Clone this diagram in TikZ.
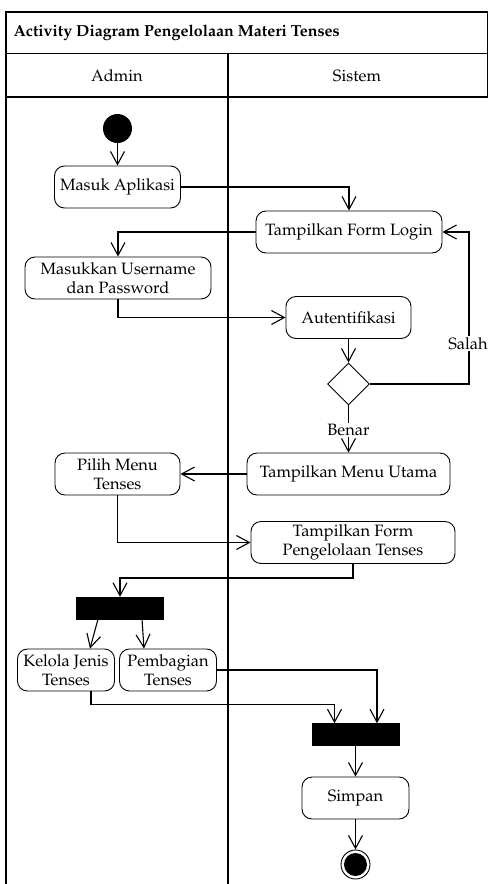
\documentclass[tikz,border=0pt]{standalone}
\usepackage[T1]{fontenc}
\usepackage{mathpazo}
\usetikzlibrary{arrows.meta,shapes.geometric}

\begin{document}
\begin{tikzpicture}[x=1pt,y=-1pt,
  txt/.style={font=\fontsize{16.4}{19}\selectfont},
  act/.style={txt, draw, line width=0.9pt, rounded corners=10pt, align=center,
              inner sep=1pt, minimum height=42pt},
  bar/.style={draw, fill=black, minimum width=87pt, minimum height=22pt, inner sep=0pt},
  flow/.style={draw, line width=1.1pt, -{Straight Barb[length=13pt, width=14pt, line width=1.1pt]}},
  lbl/.style={txt, fill=white, inner sep=1pt},
  lane/.style={line width=1.1pt}
]
\useasboundingbox (0,0) rectangle (488,884);

% swimlane frame
\draw[lane] (6,884) -- (6,12) -- (487.5,12) -- (487.5,97);
\draw[lane] (6,53.5) -- (488,53.5);
\draw[lane] (6,97) -- (488,97);
\draw[lane] (228,53.5) -- (228,884);
\node[anchor=west, font=\fontsize{16}{19}\selectfont\bfseries] (title) at (10,33) {Activity Diagram Pengelolaan Materi Tenses};
\node[txt] (admin) at (117,75.5) {Admin};
\node[txt] (sistem) at (357,75.5) {Sistem};

% activities
\node[circle, fill=black, minimum size=29pt, inner sep=0pt] (start) at (117.5,128.5) {};
\node[act, minimum width=126pt] (masuk) at (117.5,187) {Masuk Aplikasi};
\node[act, minimum width=186pt] (login) at (349,232) {Tampilkan Form Login};
\node[act, minimum width=186pt] (input) at (118,278) {Masukkan Username\\dan Password};
\node[act, minimum width=125pt] (auth) at (348.5,317.5) {Autentifikasi};
\node[diamond, draw, line width=0.9pt, minimum width=42pt, minimum height=42pt, inner sep=0pt] (cek) at (348.5,384) {};
\node[act, minimum width=203pt] (menu) at (348.5,474) {Tampilkan Menu Utama};
\node[act, minimum width=125pt] (pilih) at (117.5,474) {Pilih Menu\\Tenses};
\node[act, minimum width=204pt] (form) at (353,542.5) {Tampilkan Form\\Pengelolaan Tenses};
\node[bar] (fork) at (120,608) {};
\node[act, minimum width=97pt, minimum height=42pt] (kelola) at (66,670) {Kelola Jenis\\Tenses};
\node[act, minimum width=97pt, minimum height=42pt] (bagi) at (168,670) {Pembagian\\Tenses};
\node[bar] (join) at (355.5,734.5) {};
\node[act, minimum width=107pt] (simpan) at (355.5,798) {Simpan};
\node[circle, draw, line width=0.9pt, minimum size=29pt, inner sep=0pt] (end) at (355.5,864.5) {};
\node[circle, fill=black, minimum size=23pt, inner sep=0pt] (endin) at (end.center) {};

% control flow
\draw[flow] (start) -- (masuk);
\draw[flow] (masuk.east) -| (login.north);
\draw[flow] (login.west) -| (input.north);
\draw[flow] (input.south) |- (auth.west);
\draw[flow] (auth) -- (cek);
\draw[flow] (cek.east) -- (469,384) -- (469,232) -- (login.east);
\node[lbl] (salah) at (468,343.5) {Salah};
\draw[flow] (cek.south) -- (menu.north);
\node[lbl] (benar) at (348.5,430) {Benar};
\draw[flow] (menu.west) -- (pilih.east);
\draw[flow] (pilih.south) |- (form.west);
\draw[flow] (form.south) -- ++(0,14) -| (fork.north);
\draw[flow] ([xshift=-22pt]fork.south) -- ([xshift=24pt]kelola.north);
\draw[flow] ([xshift=22pt]fork.south) -- ([xshift=-24pt]bagi.north);
\draw[flow] ([xshift=25pt]kelola.south) -- ++(0,13) -| ([xshift=-21pt]join.north);
\draw[flow] (bagi.east) -| ([xshift=21.5pt]join.north);
\draw[flow] (join) -- (simpan);
\draw[flow] (simpan) -- (end);
\end{tikzpicture}
\end{document}
